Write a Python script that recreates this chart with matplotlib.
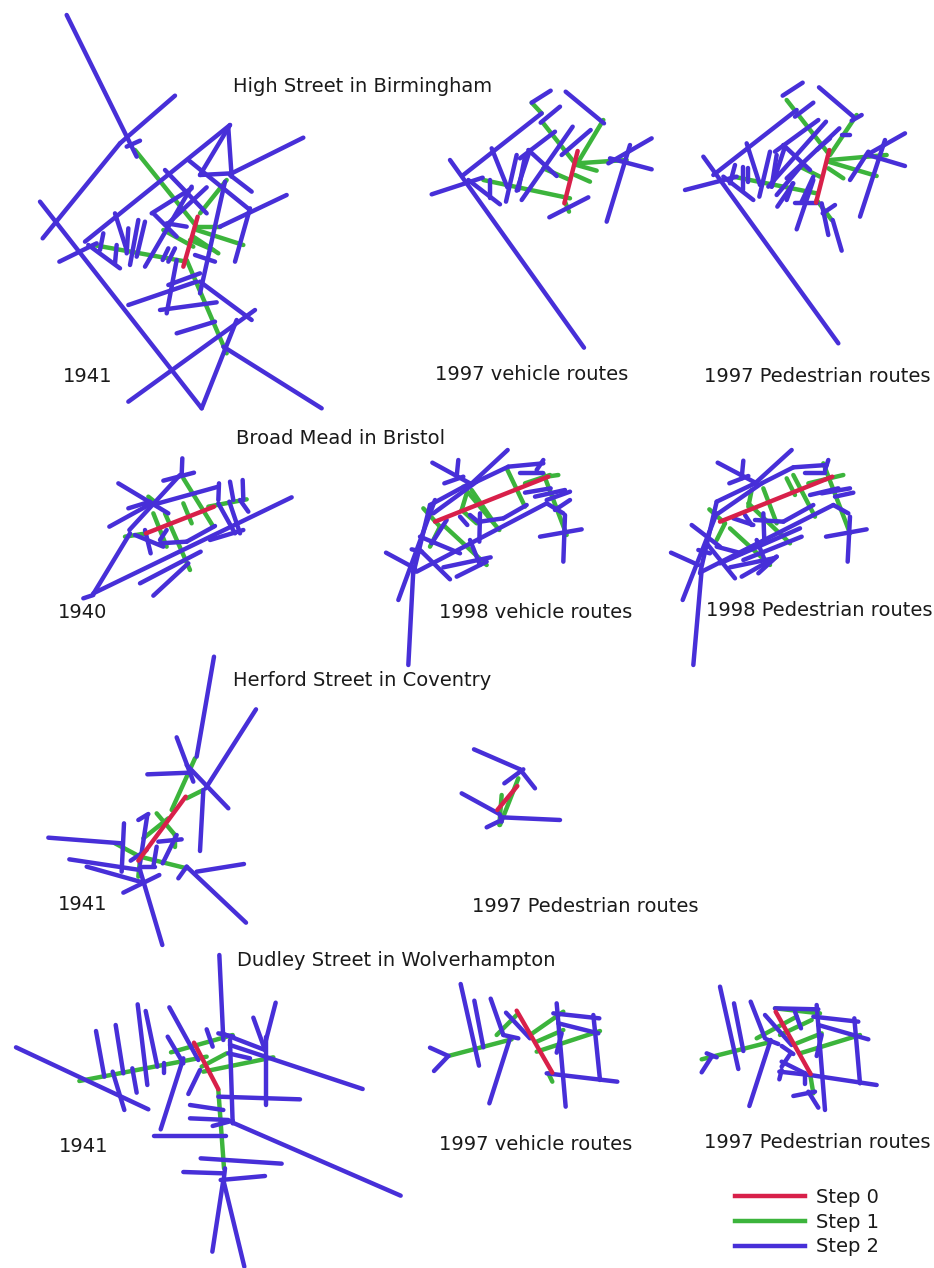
import matplotlib
matplotlib.use("Agg")
from matplotlib import pyplot as plt
from matplotlib.lines import Line2D

high_1941_red = [(533, 650, 490, 800)]
high_1941_green = [(345, 450, 530, 680), (500, 780, 620, 1060), (540, 640, 620, 540), (525, 680, 600, 680),
                   (530, 690, 670, 735), (520, 710, 595, 760), (510, 720, 580, 750), (430, 690, 520, 740),
                   (220, 735, 500, 785)]
high_1941_blue = [(140, 45, 350, 470), (68, 715, 300, 430), (300, 430, 465, 287), (60, 605, 545, 1225),
                  (195, 725, 630, 375), (630, 375, 540, 525), (625, 385, 635, 530), (540, 525, 635, 520),
                  (635, 520, 850, 413), (505, 480, 690, 630), (630, 525, 695, 575), (435, 510, 560, 640),
                  (320, 440, 360, 422), (118, 785, 230, 730), (250, 700, 240, 750), (285, 640, 320, 750),
                  (355, 660, 330, 795), (325, 685, 320, 760), (375, 665, 350, 770), (290, 735, 285, 790),
                  (205, 735, 300, 805), (375, 800, 515, 560), (400, 640, 470, 710), (395, 640, 515, 565),
                  (445, 670, 560, 562), (440, 670, 500, 680), (428, 780, 445, 745), (445, 785, 465, 745),
                  (600, 680, 800, 585), (690, 625, 645, 785), (615, 545, 540, 880), (525, 765, 585, 785),
                  (470, 780, 440, 940), (445, 855, 540, 820), (325, 915, 530, 845), (540, 845, 695, 960),
                  (420, 930, 590, 907), (470, 1000, 585, 965), (705, 930, 325, 1205), (650, 960, 545, 1225),
                  (610, 1040, 905, 1225)]

high_veh_red = [(473, 213, 433, 370)]
high_veh_green = [(335, 68, 365, 100), (370, 130, 465, 250), (475, 245, 550, 120), (470, 250, 620, 240),
                  (470, 255, 530, 272), (465, 285, 510, 305), (370, 265, 450, 300), (190, 300, 450, 355),
                  (435, 365, 447, 395)]
high_veh_blue = [(90, 240, 492, 803), (130, 285, 365, 100), (362, 128, 420, 80), (335, 68, 392, 32),
                 (437, 35, 552, 130), (35, 343, 188, 293), (215, 205, 262, 322), (290, 225, 258, 365),
                 (210, 300, 210, 355), (145, 300, 240, 373), (330, 210, 290, 332), (315, 230, 295, 330),
                 (325, 210, 410, 288), (300, 235, 405, 155), (305, 360, 458, 140), (425, 225, 512, 150),
                 (388, 412, 505, 352), (565, 250, 695, 175), (570, 235, 695, 268), (630, 195, 560, 425)]

high_ped_red = [(1228, 210, 1188, 368)]
high_ped_green = [(1100, 60, 1225, 220), (1230, 225, 1310, 105), (1230, 240, 1400, 225), (1225, 245, 1370, 288),
                  (1225, 265, 1270, 295), (1140, 260, 1200, 290), (940, 290, 1190, 340), (1190, 360, 1235, 420)]
high_ped_blue = [(850, 230, 1255, 790), (880, 285, 1130, 90), (1125, 110, 1180, 68), (1088, 47, 1148, 8),
                 (1197, 22, 1300, 110), (1295, 122, 1325, 105), (795, 330, 950, 290), (945, 255, 930, 310),
                 (980, 190, 1020, 315), (1050, 215, 1018, 350), (970, 260, 970, 330), (985, 265, 985, 305),
                 (910, 290, 1000, 360), (1095, 200, 1055, 320), (1070, 225, 1055, 320), (1090, 195, 1170, 270),
                 (1065, 215, 1195, 120), (1045, 320, 1218, 125), (1100, 295, 1258, 145), (1070, 345, 1150, 250),
                 (1072, 380, 1120, 310), (1100, 360, 1118, 310), (1145, 365, 1180, 290), (1125, 370, 1190, 370),
                 (1130, 448, 1180, 300), (1190, 210, 1230, 175), (1265, 165, 1290, 165), (1208, 400, 1245, 375),
                 (1205, 370, 1225, 465), (1238, 420, 1265, 512), (1290, 300, 1345, 215), (1340, 225, 1455, 160),
                 (1345, 225, 1455, 258), (1395, 180, 1320, 410)]

broad_1940_red = [(228, 250, 432, 170)]
broad_1940_green = [(340, 85, 430, 230), (250, 190, 290, 290), (285, 190, 360, 360), (340, 160, 365, 220),
                    (235, 140, 260, 160), (415, 170, 530, 148), (165, 260, 230, 250)]
broad_1940_blue = [(337, 25, 335, 75), (280, 92, 372, 68), (330, 75, 178, 240), (145, 100, 295, 190),
                   (175, 175, 240, 155), (118, 230, 245, 160), (265, 160, 445, 110), (447, 100, 445, 150),
                   (445, 160, 495, 250), (480, 95, 490, 150), (478, 155, 510, 250), (518, 90, 520, 150),
                   (510, 150, 535, 185), (40, 445, 70, 435), (68, 435, 180, 250), (70, 430, 665, 142),
                   (210, 400, 392, 305), (250, 437, 355, 340), (195, 255, 280, 290), (225, 240, 242, 310),
                   (270, 270, 290, 240), (270, 280, 350, 275), (350, 275, 435, 228), (420, 270, 520, 240)]

broad_veh_red = [(165, 215, 505, 80)]
broad_veh_green = [(130, 175, 180, 230), (150, 290, 180, 230), (190, 225, 320, 345), (245, 180, 260, 130),
                   (250, 110, 358, 240), (245, 180, 290, 220), (275, 120, 340, 215), (380, 55, 435, 170),
                   (435, 100, 510, 75), (490, 70, 560, 255), (500, 80, 535, 75)]
broad_veh_blue = [(383, 0, 270, 105), (157, 38, 270, 100), (235, 30, 230, 80), (193, 100, 250, 80),
                  (270, 100, 150, 165), (150, 165, 100, 370), (165, 150, 55, 450), (100, 360, 85, 645),
                  (18, 308, 105, 355), (160, 190, 290, 95), (290, 95, 385, 50), (385, 50, 490, 40),
                  (490, 30, 470, 60), (420, 70, 490, 70), (435, 128, 512, 115), (465, 140, 555, 120),
                  (500, 150, 570, 125), (525, 180, 570, 150), (110, 365, 500, 160), (500, 160, 550, 190),
                  (555, 195, 550, 335), (480, 260, 605, 238), (240, 200, 262, 225), (155, 280, 200, 210),
                  (270, 195, 300, 220), (300, 190, 298, 275), (300, 215, 370, 205), (370, 205, 440, 165),
                  (120, 260, 240, 310), (95, 298, 125, 305), (120, 300, 210, 388), (190, 352, 332, 322),
                  (230, 380, 320, 335), (270, 270, 300, 345)]

broad_ped_red = [(150, 215, 487, 80)]
broad_ped_green = [(118, 178, 165, 220), (140, 270, 165, 220), (180, 235, 300, 345), (235, 170, 245, 120),
                   (235, 160, 360, 280), (280, 115, 320, 220), (350, 85, 375, 135), (370, 75, 435, 200),
                   (415, 100, 520, 75), (460, 40, 540, 250)]
broad_ped_blue = [(365, 0, 255, 100), (143, 38, 260, 100), (220, 32, 215, 85), (178, 100, 235, 78),
                  (255, 100, 140, 155), (140, 155, 90, 370), (140, 190, 38, 450), (95, 360, 70, 645),
                  (3, 308, 85, 345), (145, 190, 275, 100), (275, 100, 370, 52), (370, 52, 470, 45),
                  (475, 30, 465, 60), (405, 70, 465, 70), (420, 135, 505, 115), (455, 130, 540, 115),
                  (495, 140, 550, 128), (95, 365, 490, 165), (490, 165, 535, 190), (540, 200, 533, 335),
                  (468, 260, 590, 238), (65, 225, 150, 290), (85, 300, 120, 310), (110, 280, 195, 385),
                  (180, 352, 310, 325), (215, 380, 320, 320), (265, 370, 320, 320), (150, 340, 390, 235),
                  (220, 330, 395, 260), (260, 270, 290, 345), (280, 190, 283, 275), (190, 205, 250, 225),
                  (225, 195, 245, 225), (255, 210, 340, 215), (340, 215, 430, 165), (140, 290, 215, 310)]

herford_1941_red = [(437, 440, 295, 632)]
herford_1941_green = [(465, 325, 395, 480), (440, 445, 490, 420), (310, 565, 385, 505), (350, 490, 405, 555),
                      (405, 555, 405, 590), (225, 580, 300, 620), (300, 620, 440, 655), (300, 630, 295, 680)]
herford_1941_blue = [(522, 20, 470, 320), (648, 178, 497, 415), (410, 262, 460, 395), (322, 373, 450, 368),
                     (440, 345, 565, 475), (490, 420, 480, 603), (25, 563, 245, 580), (252, 520, 245, 665),
                     (88, 628, 300, 660), (140, 650, 300, 695), (300, 650, 345, 650), (358, 675, 250, 728),
                     (300, 660, 367, 885), (325, 492, 295, 510), (322, 495, 300, 640), (272, 632, 320, 600),
                     (350, 590, 340, 650), (355, 575, 425, 568), (410, 555, 368, 640), (415, 685, 440, 650),
                     (440, 650, 618, 818), (470, 665, 612, 642)]

herford_ped_red = [(202, 138, 142, 210)]
herford_ped_green = [(205, 115, 150, 255), (155, 165, 148, 255)]
herford_ped_blue = [(72, 28, 210, 88), (163, 130, 220, 88), (210, 88, 255, 145), (35, 160, 148, 222),
                    (155, 232, 330, 240), (110, 262, 155, 240), (150, 225, 155, 245)]

dudley_1941_red = [(552, 278, 625, 418)]
dudley_1941_green = [(208, 393, 590, 320), (483, 307, 668, 255), (575, 350, 650, 310), (580, 365, 790, 322),
                     (625, 420, 642, 655)]
dudley_1941_blue = [(628, 15, 640, 270), (18, 292, 415, 478), (258, 243, 283, 380), (317, 225, 340, 370),
                    (383, 163, 412, 405), (407, 183, 442, 350), (308, 365, 343, 480), (367, 355, 380, 428),
                    (463, 340, 463, 368), (478, 172, 565, 330), (473, 260, 520, 340), (590, 238, 608, 290),
                    (520, 325, 452, 538), (570, 360, 535, 432), (625, 250, 670, 260), (635, 250, 765, 300),
                    (660, 285, 1058, 417), (730, 203, 765, 300), (797, 158, 768, 270), (768, 260, 768, 465),
                    (655, 310, 720, 325), (660, 270, 668, 520), (625, 440, 870, 448), (540, 465, 640, 480),
                    (540, 505, 655, 510), (608, 528, 668, 512), (668, 518, 1172, 737), (432, 558, 648, 558),
                    (572, 625, 815, 641), (520, 666, 640, 670), (632, 690, 765, 678), (645, 655, 640, 700),
                    (640, 690, 607, 905), (640, 690, 703, 950)]

dudley_veh_red = [(290, 122, 397, 308)]
dudley_veh_green = [(85, 258, 275, 208), (230, 195, 290, 135), (330, 195, 430, 125), (350, 215, 430, 180),
                    (350, 245, 540, 183), (385, 310, 397, 335)]
dudley_veh_blue = [(122, 42, 177, 287), (163, 92, 190, 232), (212, 86, 250, 195), (258, 128, 330, 205),
                   (270, 205, 208, 400), (250, 195, 295, 205), (30, 233, 85, 258), (85, 258, 42, 303),
                   (410, 100, 437, 410), (400, 130, 538, 145), (520, 135, 540, 330), (415, 160, 535, 190),
                   (425, 190, 410, 248), (380, 310, 592, 335)]

dudley_ped_red = [(1067, 125, 1172, 312)]
dudley_ped_green = [(845, 268, 1055, 215), (1010, 205, 1130, 140), (1080, 195, 1175, 150), (1130, 220, 1205, 190),
                    (1140, 250, 1320, 195), (1170, 310, 1180, 370), (1065, 115, 1200, 130)]
dudley_ped_blue = [(900, 50, 955, 297), (942, 100, 970, 243), (992, 95, 1035, 205), (1035, 135, 1115, 225),
                   (1052, 210, 988, 408), (1040, 208, 1075, 222), (860, 250, 890, 262), (875, 260, 845, 307),
                   (1065, 115, 1195, 118), (1125, 125, 1143, 175), (1190, 105, 1215, 420), (1180, 140, 1315, 155),
                   (1303, 145, 1320, 340), (1195, 165, 1345, 208), (1205, 195, 1190, 258), (1085, 228, 1120, 252),
                   (1112, 250, 1085, 290), (1085, 275, 1155, 310), (1078, 305, 1170, 315), (1078, 328, 1085, 300),
                   (1155, 310, 1155, 342), (1170, 315, 1370, 345), (1120, 378, 1185, 365), (1165, 365, 1195, 413)]

step_labels = ["Step 0", "Step 1", "Step 2"]
headings = ["High Street in Birmingham", "Broad Mead in Bristol", "Herford Street in Coventry",
            "Dudley Street in Wolverhampton"]

RED = "#d8204a"
GREEN = "#3cb43c"
BLUE = "#472fd8"
LW = 3.2


def draw(ax, origin, red, green, blue):
    x0, y0 = origin
    for segs, color in ((green, GREEN), (blue, BLUE), (red, RED)):
        for x1, y1, x2, y2 in segs:
            ax.plot([x0 + x1 / 3, x0 + x2 / 3], [y0 + y1 / 3, y0 + y2 / 3], color=color, lw=LW,
                    solid_capstyle="round")


def label(ax, x, y, s):
    ax.text(x, y, s, fontsize=14, color="#1a1a1a", va="center", ha="left")


def main():
    plt.rcParams["font.family"] = ["DejaVu Sans"]
    fig = plt.figure(figsize=(9.34, 12.68), dpi=100)
    ax = fig.add_axes([0, 0, 1, 1])
    ax.set_xlim(0, 934)
    ax.set_ylim(1268, 0)
    ax.axis("off")

    draw(ax, (20, 0), high_1941_red, high_1941_green, high_1941_blue)
    draw(ax, (420, 80), high_veh_red, high_veh_green, high_veh_blue)
    draw(ax, (420, 80), high_ped_red, high_ped_green, high_ped_blue)
    draw(ax, (70, 450), broad_1940_red, broad_1940_green, broad_1940_blue)
    draw(ax, (380, 450), broad_veh_red, broad_veh_green, broad_veh_blue)
    draw(ax, (670, 450), broad_ped_red, broad_ped_green, broad_ped_blue)
    draw(ax, (40, 650), herford_1941_red, herford_1941_green, herford_1941_blue)
    draw(ax, (450, 740), herford_ped_red, herford_ped_green, herford_ped_blue)
    draw(ax, (10, 950), dudley_1941_red, dudley_1941_green, dudley_1941_blue)
    draw(ax, (420, 970), dudley_veh_red, dudley_veh_green, dudley_veh_blue)
    draw(ax, (420, 970), dudley_ped_red, dudley_ped_green, dudley_ped_blue)

    label(ax, 233, 87, headings[0])
    label(ax, 236, 439, headings[1])
    label(ax, 233, 681, headings[2])
    label(ax, 237, 960, headings[3])
    label(ax, 63, 376, "1941")
    label(ax, 435, 375, "1997 vehicle routes")
    label(ax, 704, 376, "1997 Pedestrian routes")
    label(ax, 58, 613, "1940")
    label(ax, 439, 612, "1998 vehicle routes")
    label(ax, 706, 611, "1998 Pedestrian routes")
    label(ax, 58, 905, "1941")
    label(ax, 472, 907, "1997 Pedestrian routes")
    label(ax, 59, 1146, "1941")
    label(ax, 439, 1145, "1997 vehicle routes")
    label(ax, 704, 1142, "1997 Pedestrian routes")

    handles = [Line2D([], [], color=c, lw=LW) for c in (RED, GREEN, BLUE)]
    ax.legend(handles, step_labels, loc="upper left", bbox_to_anchor=(725 / 934, 1 - 1178 / 1268),
              frameon=False, fontsize=14, handlelength=3.6, handletextpad=0.6, labelspacing=0.3,
              borderpad=0, labelcolor="#1a1a1a")

    fig.savefig("out.png", dpi=100)


if __name__ == "__main__":
    main()
